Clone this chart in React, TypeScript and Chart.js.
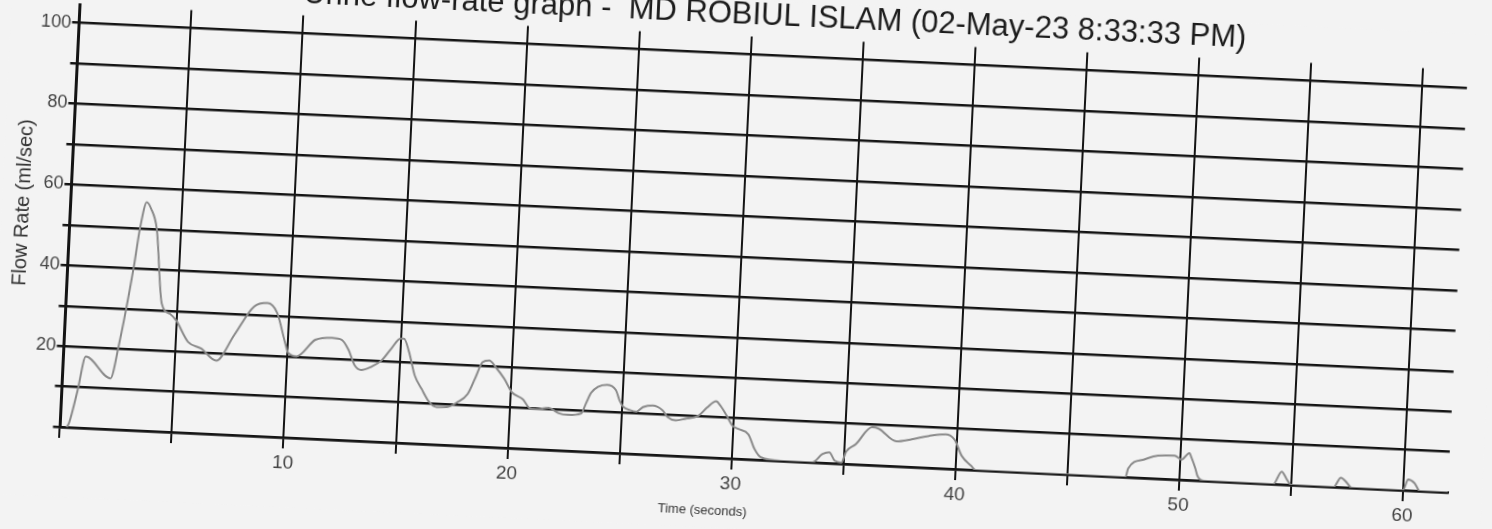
import React, { useEffect, useRef } from "react";
import { Chart, registerables } from "chart.js";

Chart.register(...registerables);

// ---- data ----
const timeSeconds = [
  0.3, 0.4, 0.7, 1.0, 2.15, 2.45, 2.95, 3.15, 3.4, 3.6, 3.9, 4.28, 4.67, 4.96, 5.53, 6.13, 6.82,
  7.57, 8.4, 8.99, 9.44, 9.88, 10.02, 10.4, 11.2, 11.94, 12.38, 12.7, 13.0, 13.3, 13.75, 14.2,
  14.6, 15.0, 15.15, 15.4, 15.7, 16.04, 16.4, 16.75, 17.2, 17.65, 18.1, 18.4, 18.7, 19.0, 19.3,
  19.7, 20.07, 20.58, 20.87, 21.16, 21.75, 22.2, 22.6, 23.2, 23.4, 23.6, 23.9, 24.3, 24.7, 24.9,
  25.07, 25.37, 25.66, 25.95, 26.38, 26.83, 27.06, 27.43, 27.86, 28.43, 28.8, 29.2, 29.4, 29.7,
  29.96, 30.25, 30.7, 31.0, 31.3, 32.2, 33.6, 34.05, 34.35, 34.6, 34.9, 35.1, 35.5, 36.2, 36.5,
  37.3, 38.0, 38.75, 39.5, 39.9, 40.25, 40.7, 40.9, 47.6, 47.7, 48.4, 49.0, 49.75, 50.06, 50.4,
  50.5, 50.7, 50.8, 51.1, 54.2, 54.55, 54.8, 55.0, 56.9, 57.2, 57.5, 57.7, 60.0, 60.2, 60.5,
  60.75, 62.0,
];
const flowRate = [
  0, 1.2, 9, 17.7, 12.6, 20.8, 40.2, 50, 56.5, 55, 50, 31.6, 29.2, 27.6, 22.5, 21, 18.2,
  24.7, 32, 33, 30.7, 23, 20.9, 20.2, 24.5, 25.2, 24.8, 22.4, 18.7, 17.6, 18.5, 20.2,
  23.2, 25.8, 25.8, 22.6, 16.9, 13.6, 10.5, 9.3, 9.4, 10.7, 12.9, 16.8, 20.9, 21.4, 19.8,
  17.1, 13.8, 12.2, 10.2, 9.9, 10.4, 9.2, 8.9, 9.4, 12, 14.6, 16.2, 16.8, 15.6, 12.9,
  11.5, 10.8, 10.5, 11.7, 12.2, 11.1, 9.55, 8.8, 9.3, 10.2, 12.3, 14, 12.9, 10.5,
  8.2, 7.4, 6.2, 2.7, 0.7, 0, 0, 2.2, 2.7, 0.7, 0.3, 3.1, 4.95, 9.4, 9.1,
  6.2, 6.9, 7.9, 8.5, 7.3, 3.4, 1, 0, 0, 2.2, 4.6, 5.7, 5.9, 5.0, 6.7,
  5.6, 2.9, 1.2, 0, 0, 3.2, 1.3, 0, 0, 2.4, 1.1, 0, 0, 2.75, 1.9,
  0, 0,
];
const xTickLabels = [10, 20, 30, 40, 50, 60];
const yTickLabels = [20, 40, 60, 80, 100];
const chartTitle = "Urine flow-rate graph -  MD ROBIUL ISLAM (02-May-23 8:33:33 PM)";
const xAxisTitle = "Time (seconds)";
const yAxisTitle = "Flow Rate (ml/sec)";

// ---- styling ----
const FONT = "'Liberation Sans', Arial, sans-serif";
const PAPER = "#f3f3f3";
const INK = "#141414";

const axisTitlePlugin = {
  id: "axisTitles",
  beforeDraw(chart: any) {
    const { ctx, width, height } = chart;
    ctx.save();
    ctx.fillStyle = PAPER;
    ctx.fillRect(0, 0, width, height);
    ctx.restore();
  },
  afterDraw(chart: any) {
    const { ctx, chartArea, scales } = chart;
    ctx.save();
    ctx.fillStyle = "#333";
    ctx.textAlign = "center";
    ctx.textBaseline = "middle";
    ctx.font = `13px ${FONT}`;
    ctx.fillText(xAxisTitle, scales.x.getPixelForValue(28.8), chartArea.bottom + 53);
    ctx.translate(chartArea.left - 46.6, scales.y.getPixelForValue(55));
    ctx.rotate(-Math.PI / 2);
    ctx.font = `20px ${FONT}`;
    ctx.fillText(yAxisTitle, 0, 0);
    ctx.restore();
  },
};

export default function App() {
  const canvasRef = useRef<HTMLCanvasElement | null>(null);

  useEffect(() => {
    if (!canvasRef.current) return;
    const points = timeSeconds.map((t, i) => ({ x: t, y: flowRate[i] }));
    const chart = new Chart(canvasRef.current, {
      type: "line",
      data: {
        datasets: [
          {
            data: points,
            borderColor: "#8a8a8a",
            borderWidth: 2,
            pointRadius: 0,
            fill: false,
            cubicInterpolationMode: "monotone",
          },
        ],
      },
      options: {
        responsive: false,
        animation: false,
        events: [],
        layout: { padding: { left: 0, right: 34.2, top: 0, bottom: 0 } },
        plugins: {
          legend: { display: false },
          tooltip: { enabled: false },
          title: {
            display: true,
            text: chartTitle,
            fullSize: false,
            color: "#1c1c1c",
            font: { family: FONT, size: 31, weight: "normal", lineHeight: 1 },
            padding: { top: 0, bottom: 5.4 },
          },
        },
        scales: {
          x: {
            type: "linear",
            min: 0,
            max: 62,
            afterFit: (s: any) => {
              s.height = 69.9;
            },
            ticks: {
              stepSize: 5,
              includeBounds: false,
              autoSkip: false,
              maxRotation: 0,
              color: "#444",
              font: { family: FONT, size: 19 },
              padding: 3,
              callback: (v: any) => (xTickLabels.includes(Number(v)) ? String(v) : ""),
            },
            grid: { color: INK, lineWidth: 2, tickLength: 11 },
            border: { color: INK, width: 2.5 },
          },
          y: {
            type: "linear",
            min: 0,
            max: 104.5,
            afterFit: (s: any) => {
              s.width = 68.4;
            },
            ticks: {
              stepSize: 10,
              includeBounds: false,
              autoSkip: false,
              color: "#444",
              font: { family: FONT, size: 18 },
              padding: 1,
              callback: (v: any) => (yTickLabels.includes(Number(v)) ? String(v) : ""),
            },
            grid: { color: INK, lineWidth: 2.5, tickLength: 7 },
            border: { color: INK, width: 3 },
          },
        },
      },
      plugins: [axisTitlePlugin],
    });
    return () => chart.destroy();
  }, []);

  return (
    <div style={{ position: "fixed", left: 0, top: 0, width: 1492, height: 529, background: PAPER, overflow: "hidden" }}>
      <div
        style={{
          position: "absolute",
          left: 0,
          top: 0,
          width: 1492,
          height: 529,
          transform: "rotate(2.7deg)",
          transformOrigin: "746px 264.5px",
        }}
      >
        <canvas ref={canvasRef} width={1492} height={529} style={{ display: "block", width: 1492, height: 529 }} />
      </div>
    </div>
  );
}
